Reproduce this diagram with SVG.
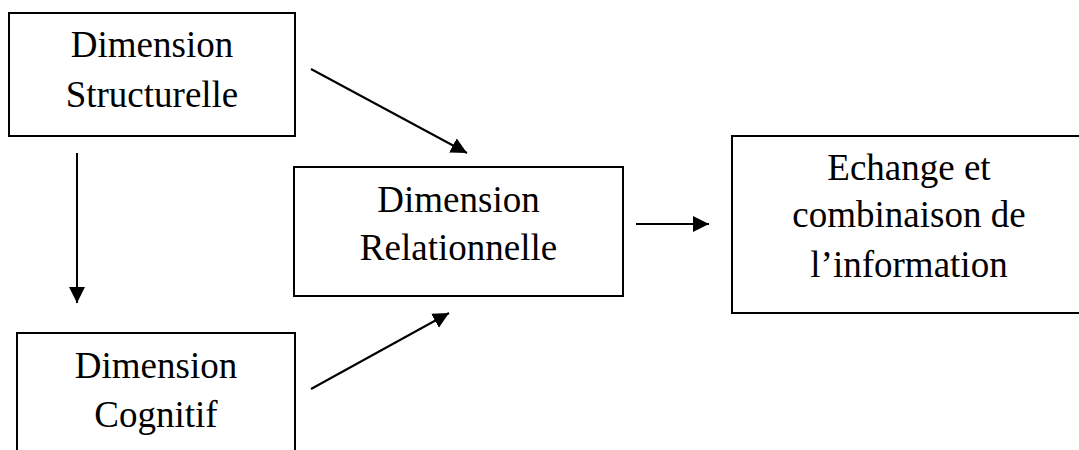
<svg xmlns="http://www.w3.org/2000/svg" width="1079" height="450" viewBox="0 0 1079 450">
  <style>
    .box { fill: #ffffff; stroke: #000000; stroke-width: 2; }
    .label { font-family: "Liberation Serif", "Times New Roman", serif; font-size: 37px; fill: #000000; text-anchor: middle; }
    .link { stroke: #000000; stroke-width: 2; fill: none; marker-end: url(#head); }
  </style>
  <defs>
    <marker id="head" markerUnits="userSpaceOnUse" markerWidth="17" markerHeight="17" refX="16" refY="8" orient="auto" viewBox="0 0 17 17">
      <path d="M0,0 L16,8 L0,16 Z" fill="#000000"/>
    </marker>
  </defs>
  <rect width="1079" height="450" fill="#ffffff"/>

  <g id="structurelle">
    <rect class="box" x="9" y="13" width="286" height="123"/>
    <text class="label" x="152" y="57">Dimension</text>
    <text class="label" x="152" y="107">Structurelle</text>
  </g>

  <g id="cognitif">
    <rect class="box" x="17" y="333" width="278" height="140"/>
    <text class="label" x="156" y="378">Dimension</text>
    <text class="label" x="156" y="427">Cognitif</text>
  </g>

  <g id="relationnelle">
    <rect class="box" x="294" y="167" width="329" height="129"/>
    <text class="label" x="458.5" y="212">Dimension</text>
    <text class="label" x="458.5" y="260">Relationnelle</text>
  </g>

  <g id="echange">
    <rect class="box" x="732" y="136" width="380" height="177"/>
    <text class="label" x="909" y="180">Echange et</text>
    <text class="label" x="909" y="227">combinaison de</text>
    <text class="label" x="909" y="277">l’information</text>
  </g>

  <g id="connectors">
    <line class="link" x1="311" y1="69" x2="467" y2="153"/>
    <line class="link" x1="77" y1="153" x2="77" y2="303"/>
    <line class="link" x1="311" y1="389" x2="449" y2="313"/>
    <line class="link" x1="636" y1="224" x2="709" y2="224"/>
  </g>
</svg>
